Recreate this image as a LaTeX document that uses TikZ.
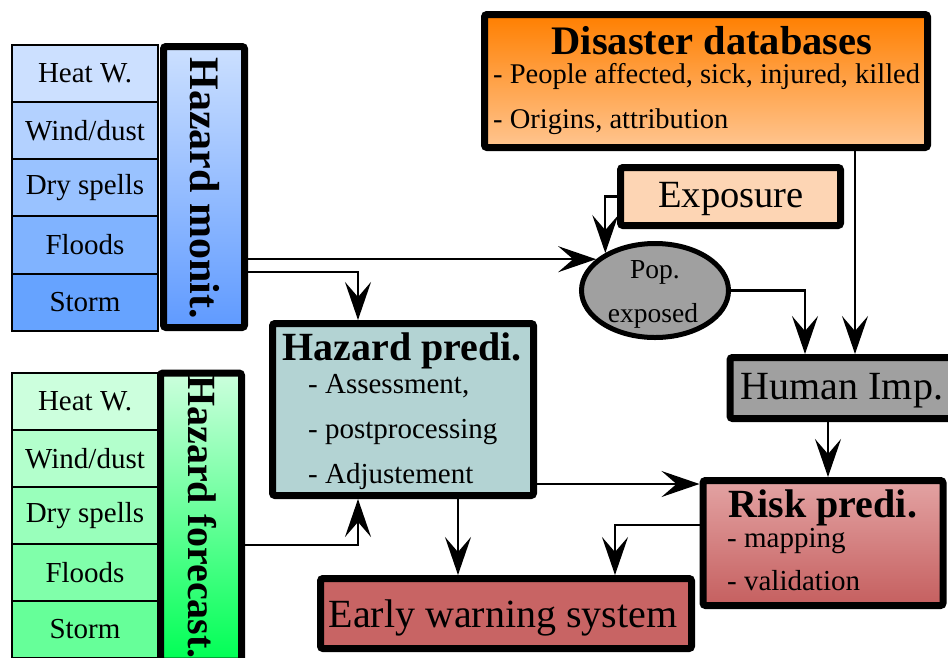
\documentclass[tikz,border=0pt]{standalone}
\usepackage{fontspec}
\setmainfont{Liberation Serif}
\usetikzlibrary{arrows.meta,shapes.geometric,calc}
\newcommand{\fsz}[1]{\fontsize{#1}{#1}\selectfont}
\definecolor{bA}{HTML}{CCE0FF}
\definecolor{bB}{HTML}{B3D1FF}
\definecolor{bC}{HTML}{99C2FF}
\definecolor{bD}{HTML}{80B3FF}
\definecolor{bE}{HTML}{66A3FF}
\definecolor{bF}{HTML}{5F9AFF}
\definecolor{gA}{HTML}{CCFFDD}
\definecolor{gB}{HTML}{B3FFCC}
\definecolor{gC}{HTML}{99FFBB}
\definecolor{gD}{HTML}{80FFAA}
\definecolor{gE}{HTML}{66FF99}
\definecolor{gF}{HTML}{00FF55}
\definecolor{orTop}{HTML}{FF7F00}
\definecolor{orBot}{HTML}{FFC590}
\definecolor{peach}{HTML}{FDD5B4}
\definecolor{grayfill}{HTML}{A0A0A0}
\definecolor{teal}{HTML}{B3D3D3}
\definecolor{rTop}{HTML}{E3A3A3}
\definecolor{rBot}{HTML}{C55F5F}
\definecolor{ews}{HTML}{C86464}
\tikzset{
  box/.style={draw, line width=7pt, rounded corners=2.5pt, inner sep=0pt},
  cell/.style={draw, line width=1.5pt, inner sep=0pt, minimum width=146pt, minimum height=57.2pt, font=\fsz{29}},
  arr/.style={line width=2.2pt, -{Stealth[length=38pt,width=26pt,inset=15pt]}},
  txt/.style={inner sep=0pt},
  ttl/.style={inner sep=0pt, font=\bfseries\fsz{40}},
  itm/.style={inner sep=0pt, font=\fsz{29}, anchor=mid west},
}
\begin{document}
\begin{tikzpicture}[x=1pt,y=-1pt]
\useasboundingbox (0,0) rectangle (948,657);
\clip (0,0) rectangle (948,657);
% monitoring list
\node[cell, fill=bA] (m1) at (85,73.5) {Heat W.};
\node[cell, fill=bB] (m2) at (85,130.5) {Wind/dust};
\node[cell, fill=bC] (m3) at (85,187.5) {Dry spells};
\node[cell, fill=bD] (m4) at (85,245) {Floods};
\node[cell, fill=bE] (m5) at (85,302.5) {Storm};
\node[box, top color=bA, bottom color=bF, minimum width=81pt, minimum height=281pt] (monit) at (204,187) {};
\node[ttl, rotate=-90, font=\bfseries\fsz{42}] (monittxt) at (205,188) {Hazard monit.};
% forecast list
\node[cell, fill=gA] (f1) at (85,401.5) {Heat W.};
\node[cell, fill=gB] (f2) at (85,458.5) {Wind/dust};
\node[cell, fill=gC] (f3) at (85,515.5) {Dry spells};
\node[cell, fill=gD] (f4) at (85,572.5) {Floods};
\node[cell, fill=gE] (f5) at (85,629.5) {Storm};
\node[box, top color=gA, bottom color=gF, minimum width=81pt, minimum height=288pt] (fcst) at (201,517) {};
\node[ttl, rotate=-90, font=\bfseries\fsz{40}] (fcsttxt) at (202,517) {Hazard forecast.};
% disaster databases
\node[box, top color=orTop, bottom color=orBot, minimum width=443pt, minimum height=133pt] (dbase) at (706,81) {};
\node[ttl, font=\bfseries\fsz{40.5}] (dbt) at (712,41) {Disaster databases};
\node[itm, font=\fsz{28.5}] (db1) at (493,81) {- People affected, sick, injured, killed};
\node[itm, font=\fsz{28.5}] (db2) at (493,126) {- Origins, attribution};
% exposure
\node[box, fill=peach, minimum width=220pt, minimum height=58pt] (expo) at (730.5,196.5) {};
\node[txt, font=\fsz{38.5}] (expot) at (731,199) {Exposure};
% pop exposed
\node[ellipse, draw, line width=5pt, fill=grayfill, minimum width=147pt, minimum height=94pt, inner sep=0pt] (pop) at (655,290.5) {};
\node[txt, font=\fsz{27.5}] (popa) at (655,272) {Pop.};
\node[txt, font=\fsz{27.5}] (popb) at (653,316) {exposed};
% human impact
\node[box, fill=grayfill, minimum width=226pt, minimum height=61pt] (human) at (843,388) {};
\node[txt, font=\fsz{40}] (humant) at (842,391) {Human Imp.};
% hazard prediction
\node[box, fill=teal, minimum width=261pt, minimum height=172pt] (hazp) at (403,409.5) {};
\node[ttl] (hazpt) at (402,351) {Hazard predi.};
\node[itm] (hp1) at (308,391) {- Assessment,};
\node[itm] (hp2) at (308,436) {- postprocessing};
\node[itm] (hp3) at (308,481) {- Adjustement};
% risk prediction
\node[box, top color=rTop, bottom color=rBot, minimum width=240pt, minimum height=125pt] (risk) at (823,543) {};
\node[ttl] (riskt) at (823,508) {Risk predi.};
\node[itm] (rk1) at (727,545) {- mapping};
\node[itm] (rk2) at (727,588) {- validation};
% early warning
\node[box, fill=ews, minimum width=371pt, minimum height=70pt] (early) at (506,613.5) {};
\node[txt, font=\fsz{40}] (earlyt) at (503,618) {Early warning system};
% connectors
\draw[arr] (monit.east |- pop.152) -- (pop.152);
\coordinate (hpn) at ([xshift=-45pt]hazp.north);
\draw[arr] (monit.east |- 0,272) -| (hpn);
\coordinate (hps) at ([xshift=-45pt]hazp.south);
\draw[arr] (fcst.east |- 0,545) -| (hps);
\draw[arr] (expo.west) -| (pop.143);
\coordinate (hn1) at ([xshift=-38pt]human.north);
\draw[arr] (pop.east) -| (hn1);
\coordinate (dbx) at ([xshift=149pt]dbase.south);
\draw[arr] (dbx) -- (dbx |- human.north);
\coordinate (hx) at ([xshift=-15pt]human.south);
\draw[arr] (hx) -- (hx |- risk.north);
\draw[arr] (hazp.east |- 0,484) -- (risk.west |- 0,484);
\coordinate (hpx) at ([xshift=55pt]hazp.south);
\draw[arr] (hpx) -- (hpx |- early.north);
\coordinate (ewx) at ([xshift=109pt]early.north);
\draw[arr] (risk.west |- 0,525) -| (ewx);
\end{tikzpicture}
\end{document}
